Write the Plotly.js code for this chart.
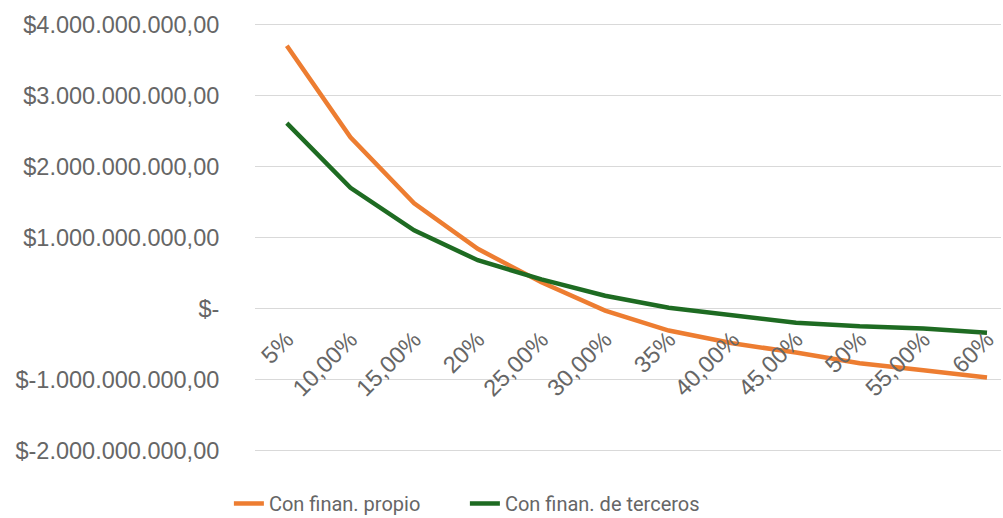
<!DOCTYPE html>
<html>
<head>
<meta charset="utf-8">
<script src="https://cdn.plot.ly/plotly-3.0.1.min.js"></script>
<style>html,body{margin:0;padding:0;background:#fff;}#chart{width:1003px;height:518px;}</style>
</head>
<body>
<div id="chart"></div>
<script>
var categories = ["5%", "10,00%", "15,00%", "20%", "25,00%", "30,00%", "35%", "40,00%", "45,00%", "50%", "55,00%", "60%"];
var propio = [3.70e9, 2.41e9, 1.48e9, 0.84e9, 0.37e9, -0.03e9, -0.31e9, -0.49e9, -0.62e9, -0.77e9, -0.87e9, -0.97e9];
var terceros = [2.61e9, 1.70e9, 1.10e9, 0.68e9, 0.41e9, 0.18e9, 0.01e9, -0.10e9, -0.20e9, -0.25e9, -0.28e9, -0.34e9];
var seriesNames = ["Con finan. propio", "Con finan. de terceros"];
var yTickVals = [4e9, 3e9, 2e9, 1e9, 0, -1e9, -2e9];
var yTickText = ["$4.000.000.000,00", "$3.000.000.000,00", "$2.000.000.000,00", "$1.000.000.000,00", "$-", "$-1.000.000.000,00", "$-2.000.000.000,00"];

var yMin = -2.02e9, yMax = 4.02e9;
var gray = "#666666";
var fontFam = "Liberation Sans, Arial, sans-serif";

var traces = [
  {x: categories, y: propio, name: seriesNames[0], type: "scatter", mode: "lines",
   line: {color: "#ED7D31", width: 4.5}},
  {x: categories, y: terceros, name: seriesNames[1], type: "scatter", mode: "lines",
   line: {color: "#1E6B22", width: 4.5}}
];

var layout = {
  width: 1003, height: 518,
  margin: {l: 255, r: 2, t: 23, b: 66, autoexpand: false},
  paper_bgcolor: "#fff", plot_bgcolor: "#fff",
  font: {family: fontFam, color: gray},
  showlegend: true,
  legend: {orientation: "h", x: -0.035, xanchor: "left", y: -0.12, yanchor: "middle",
           font: {size: 20, color: gray, family: "Roboto, sans-serif"},
           entrywidth: 191, entrywidthmode: "pixels", traceorder: "normal"},
  xaxis: {type: "category", range: [-0.5, 11.22], showgrid: false, showline: false, zeroline: false,
          anchor: "free", position: (0 - yMin) / (yMax - yMin),
          tickangle: -45, ticks: "outside", ticklen: 7, tickcolor: "rgba(0,0,0,0)",
          tickfont: {size: 23.5, color: gray, family: fontFam}},
  yaxis: {range: [yMin, yMax], tickvals: yTickVals, ticktext: yTickText,
          showgrid: true, gridcolor: "#D9D9D9", gridwidth: 1.3, zeroline: false, showline: false,
          ticks: "outside", ticklen: 30, tickcolor: "rgba(0,0,0,0)",
          tickfont: {size: 23.5, color: gray, family: fontFam}}
};

Plotly.newPlot("chart", traces, layout, {displayModeBar: false, staticPlot: true});
</script>
</body>
</html>
